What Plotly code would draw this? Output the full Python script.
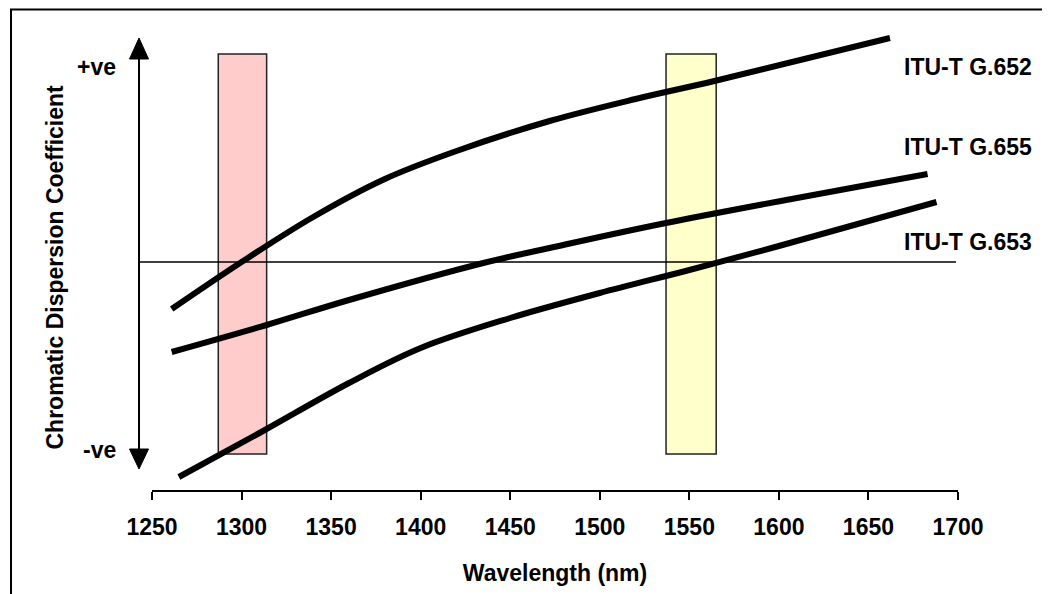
import plotly.graph_objects as go

# ---- data (arbitrary dispersion units, 0 = zero dispersion) ----
wl_652 = [1261, 1300, 1340, 1380, 1420, 1472, 1520, 1564, 1662]
d_652 = [-47, 0, 45, 83, 111, 141, 163, 181, 224]

wl_655 = [1261, 1314, 1360, 1435, 1472, 1537, 1683]
d_655 = [-90, -63, -38, -1, 14, 39, 88]

wl_653 = [1265, 1310, 1360, 1400, 1450, 1500, 1550, 1600, 1688]
d_653 = [-215, -171, -121, -86, -56, -31, -8, 16, 60]

series_names = ["ITU-T G.652", "ITU-T G.655", "ITU-T G.653"]
label_y = [195, 115, 20]

x_ticks = [1250, 1300, 1350, 1400, 1450, 1500, 1550, 1600, 1650, 1700]
x_range = [1250, 1700]
y_range = [-228, 232]

band_o = [1287, 1314]    # around 1310 nm window
band_c = [1537, 1565]    # around 1550 nm window
band_fill = ["#FFCCCC", "#FFFFCC"]

FONT = "Liberation Sans, Arial, sans-serif"
FS = 23

fig = go.Figure()
for wl, d in [(wl_652, d_652), (wl_655, d_655), (wl_653, d_653)]:
    fig.add_trace(go.Scatter(x=wl, y=d, mode="lines",
                             line=dict(color="black", width=6, shape="spline", smoothing=1.0),
                             showlegend=False, hoverinfo="skip"))

# plot geometry helpers (paper coords)
W_plot = 806.0
H_plot = 460.0
def px_x(dx):  # pixel offset from plot left -> paper
    return dx / W_plot
def px_y(dy):  # pixel offset from plot bottom -> paper
    return dy / H_plot

shapes = []
for band, col in zip([band_o, band_c], band_fill):
    shapes.append(dict(type="rect", xref="x", yref="paper", x0=band[0], x1=band[1],
                       y0=px_y(36), y1=px_y(436), fillcolor=col, line=dict(color="#222222", width=1.5), layer="below"))
# zero-dispersion line
shapes.append(dict(type="line", xref="paper", yref="y", x0=px_x(-13), x1=px_x(804), y0=0, y1=0,
                   line=dict(color="black", width=1.5), layer="below"))
# double arrow
ax = px_x(-13)
hw = px_x(9.5)
shapes.append(dict(type="line", xref="paper", yref="y", x0=ax, x1=ax, y0=205, y1=-189,
                   line=dict(color="black", width=2)))
shapes.append(dict(type="path", xref="paper", yref="y",
                   path=f"M {ax} 224 L {ax - hw} 203 L {ax + hw} 203 Z", fillcolor="black", line=dict(color="black", width=1)))
shapes.append(dict(type="path", xref="paper", yref="y",
                   path=f"M {ax} -207 L {ax - hw} -187 L {ax + hw} -187 Z", fillcolor="black", line=dict(color="black", width=1)))
# outer frame
shapes.append(dict(type="rect", xref="paper", yref="paper", x0=px_x(-141), x1=px_x(920), y0=px_y(-140), y1=px_y(480.5),
                   line=dict(color="black", width=2), fillcolor="rgba(0,0,0,0)"))

annotations = []
for name, ly in zip(series_names, label_y):
    annotations.append(dict(text=name, xref="paper", yref="y", x=px_x(750), y=ly, xanchor="left", yanchor="middle",
                            showarrow=False, font=dict(family=FONT, size=FS, color="black", weight="bold")))
annotations.append(dict(text="+ve", xref="paper", yref="y", x=px_x(-34), y=195, xanchor="right", yanchor="middle",
                        showarrow=False, font=dict(family=FONT, size=FS, color="black", weight="bold")))
annotations.append(dict(text="-ve", xref="paper", yref="y", x=px_x(-34), y=-188, xanchor="right", yanchor="middle",
                        showarrow=False, font=dict(family=FONT, size=FS, color="black", weight="bold")))
annotations.append(dict(text="Chromatic Dispersion Coefficient", xref="paper", yref="paper", x=px_x(-98), y=px_y(222.5),
                        xanchor="center", yanchor="middle", textangle=-90, showarrow=False,
                        font=dict(family=FONT, size=FS, color="black", weight="bold")))

fig.update_layout(
    width=1050, height=594,
    margin=dict(l=144, r=100, t=22, b=112, pad=0),
    paper_bgcolor="white", plot_bgcolor="white",
    shapes=shapes, annotations=annotations,
    xaxis=dict(range=x_range, tickvals=x_ticks, showgrid=False, zeroline=False,
               showline=True, linecolor="black", linewidth=2,
               ticks="outside", ticklen=8, tickwidth=2, tickcolor="black",
               ticklabelstandoff=7,
               tickfont=dict(family=FONT, size=FS, color="black", weight="bold"),
               title=dict(text="Wavelength (nm)", standoff=26,
                          font=dict(family=FONT, size=FS, color="black", weight="bold"))),
    yaxis=dict(range=y_range, visible=False),
)

fig.write_html("out.html")
